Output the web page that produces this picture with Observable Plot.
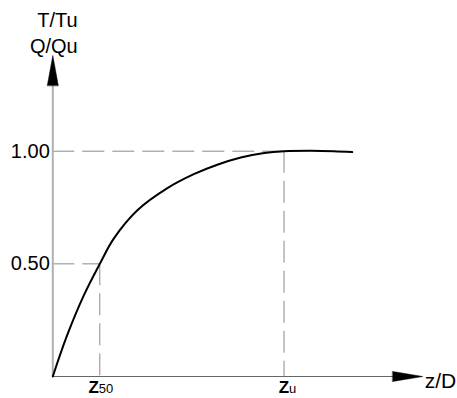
<!DOCTYPE html>
<html>
<head>
<meta charset="utf-8">
<script src="https://cdn.jsdelivr.net/npm/d3@7"></script>
<script src="https://cdn.jsdelivr.net/npm/@observablehq/plot@0.6"></script>
<style>
  body { margin: 0; background: #fff; }
  #chart svg { display: block; }
</style>
</head>
<body>
<div id="chart"></div>
<script>
// Mobilization curve: normalized resistance vs. normalized depth
const zOverD = [0, 0.3, 0.66, 1.0, 1.3, 1.8, 2.43, 3.0, 3.5, 4.0, 4.5, 4.92, 5.48, 5.98, 6.37];
const ratio  = [0, 0.18, 0.36, 0.5, 0.613, 0.738, 0.835, 0.898, 0.94, 0.972, 0.992, 1.0, 1.002, 1.0, 0.996];

// Reference levels and their labels
const yTicks = [0.5, 1.0];
const yTickLabels = ["0.50", "1.00"];
const refDepths = [1.0, 4.92];          // z50, zu
const refMain = ["Z", "Z"];
const refSub = ["50", "u"];

// Axis extents (arrow tips)
const xAxisEnd = 7.87;
const yAxisEnd = 1.425;

const curve = zOverD.map((z, i) => ({z, r: ratio[i]}));
const ticks = yTicks.map((v, i) => ({v, label: yTickLabels[i], z: refDepths[i]}));
const refs = refDepths.map((z, i) => ({z, main: refMain[i], sub: refSub[i]}));

const font = "Liberation Sans, Arial, Helvetica, sans-serif";
// elongated filled arrowhead; the vector is drawn from its base towards its tip
const arrowHead = {
  draw(ctx, l, r) {
    ctx.moveTo(-r, 0);
    ctx.lineTo(0, -l);
    ctx.lineTo(r, 0);
    ctx.closePath();
  }
};
const dash = "22,8";
const dashColor = "#8a8a8a";

// horizontal nudges of the depth labels relative to their guide line
const mainShift = [-1, 5];
const subShift = [-1, 5];

const depthLabels = refs.flatMap((d, i) => [
  Plot.text([d], {x: "z", y: 0, text: "main", textAnchor: "end", lineAnchor: "bottom",
    dx: mainShift[i], dy: 16, fontSize: 17, fontWeight: "bold", fill: "black"}),
  Plot.text([d], {x: "z", y: 0, text: "sub", textAnchor: "start", lineAnchor: "bottom",
    dx: subShift[i], dy: 16, fontSize: 13, fill: "black"})
]);

const chart = Plot.plot({
  width: 457,
  height: 398,
  style: {fontFamily: font, background: "#fff"},
  x: {domain: [0, 8.6], range: [52.3, 456.5], axis: null},
  y: {domain: [0, 1], range: [376, 150.7], axis: null},
  marks: [
    // dashed guides at the 0.50 and 1.00 levels
    Plot.ruleY(ticks, {y: "v", x1: 0, x2: "z", stroke: dashColor, strokeWidth: 1, strokeDasharray: dash}),
    Plot.ruleX(ticks, {x: "z", y1: "v", y2: 0, stroke: dashColor, strokeWidth: 1, strokeDasharray: dash}),
    // axes
    Plot.ruleX([0], {y1: 0, y2: yAxisEnd - 0.1, stroke: "#b0b0b0", strokeWidth: 2}),
    Plot.ruleY([0], {x1: 0, x2: xAxisEnd - 0.3, stroke: "#666", strokeWidth: 1}),
    Plot.vector([{x: 0, y: yAxisEnd}], {x: "x", y: "y", length: 30, r: 5.5, rotate: 0, anchor: "end",
      shape: arrowHead, fill: "black", stroke: "black", strokeWidth: 0.5}),
    Plot.vector([{x: xAxisEnd, y: 0}], {x: "x", y: "y", length: 30, r: 5, rotate: 90, anchor: "end",
      shape: arrowHead, fill: "black", stroke: "black", strokeWidth: 0.5}),
    // curve
    Plot.line(curve, {x: "z", y: "r", curve: "catmull-rom", stroke: "black", strokeWidth: 2}),
    // tick labels
    Plot.text(ticks, {x: 0, y: "v", text: "label", textAnchor: "end", lineAnchor: "middle",
      dx: -3, fontSize: 20, fill: "black"}),
    ...depthLabels,
    // axis titles
    Plot.text(["T/Tu"], {x: 0.53, y: 1.553, text: d => d, textAnchor: "end", lineAnchor: "bottom", fontSize: 20, fill: "black"}),
    Plot.text(["Q/Qu"], {x: 0.53, y: 1.438, text: d => d, textAnchor: "end", lineAnchor: "bottom", fontSize: 20, fill: "black"}),
    Plot.text(["z/D"], {x: xAxisEnd, y: 0, text: d => d, textAnchor: "start", lineAnchor: "bottom",
      dx: 2, dy: 11, fontSize: 21, fill: "black"})
  ]
});

document.getElementById("chart").append(chart);
</script>
</body>
</html>
